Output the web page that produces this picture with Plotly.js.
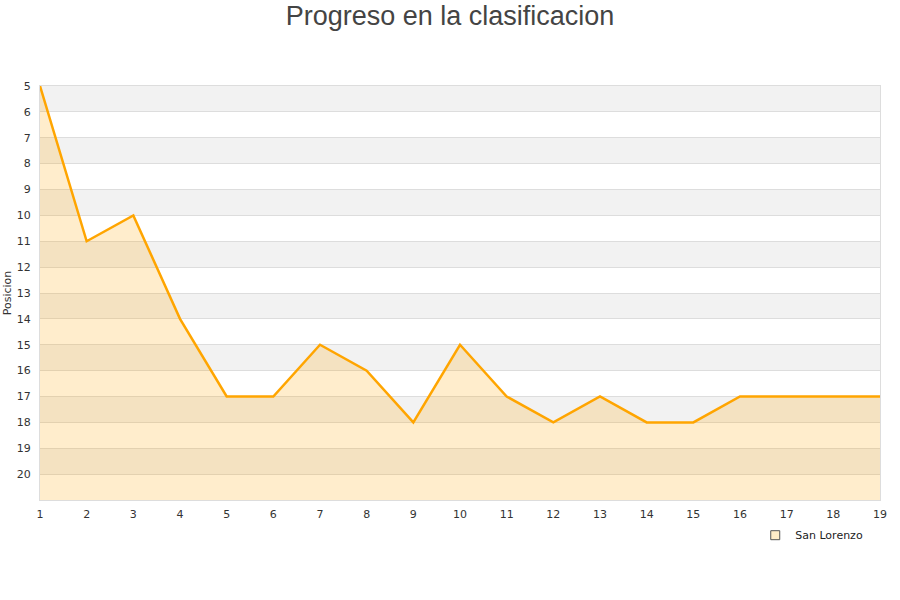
<!DOCTYPE html>
<html><head><meta charset="utf-8">
<script src="https://cdn.plot.ly/plotly-3.0.1.min.js"></script>
<style>body{margin:0;background:#fff}#chart{width:900px;height:600px}</style>
</head><body><div id="chart"></div>
<script>
const jornadas = [1,2,3,4,5,6,7,8,9,10,11,12,13,14,15,16,17,18,19];
const posiciones = [5,11,10,14,17,17,15,16,18,15,17,18,17,18,18,17,17,17,17];
const yTicks = [5,6,7,8,9,10,11,12,13,14,15,16,17,18,19,20];
const teamName = 'San Lorenzo';
const yMin = 5, yMax = 21;

const shapes = [];
for (let v = yMin; v < yMax; v += 2) {
  shapes.push({type:'rect', xref:'paper', yref:'y', x0:0, x1:1, y0:v, y1:v+1,
    fillcolor:'#f2f2f2', line:{width:0}, layer:'below'});
}

const traces = [
  {x: jornadas, y: jornadas.map(()=>yMax), mode:'lines', line:{width:0}, hoverinfo:'skip', showlegend:false},
  {x: jornadas, y: posiciones, mode:'lines', fill:'tonexty', fillcolor:'rgba(255,165,0,0.2)',
   line:{color:'#FFA500', width:2.5}, name:teamName, showlegend:false},
  {x:[null], y:[null], mode:'markers', name:teamName,
   marker:{symbol:'square', size:9, color:'#ffecc8', line:{color:'#555', width:1}}}
];

const layout = {
  width:900, height:600,
  margin:{l:40, r:20, t:86, b:100},
  paper_bgcolor:'#fff', plot_bgcolor:'rgba(0,0,0,0)',
  font:{family:'DejaVu Sans, Verdana, sans-serif', size:11, color:'#333'},
  title:{text:'Progreso en la clasificacion', x:0.5, xanchor:'center', y:0.974, yanchor:'middle',
    font:{family:'Liberation Sans, Arial, sans-serif', size:27, color:'#444'}},
  xaxis:{range:[1,19], tickvals:jornadas, showgrid:false, zeroline:false,
    showline:true, linecolor:'#ddd', mirror:true, ticks:'', ticklabelstandoff:4,
    tickfont:{size:11, color:'#333'}},
  yaxis:{range:[yMax, yMin], tickvals:yTicks, showgrid:true, gridcolor:'#ddd', zeroline:false,
    showline:true, linecolor:'#ddd', mirror:true, ticks:'', ticklabelstandoff:6,
    tickfont:{size:11, color:'#333'},
    title:{text:'Posicion', font:{size:11, color:'#333'}, standoff:2}},
  shapes: shapes,
  showlegend:true,
  legend:{x:0.986, xanchor:'right', y:-0.05, yanchor:'top', font:{size:11, color:'#222'}, bgcolor:'rgba(0,0,0,0)'}
};
Plotly.newPlot('chart', traces, layout, {displayModeBar:false});
</script></body></html>
